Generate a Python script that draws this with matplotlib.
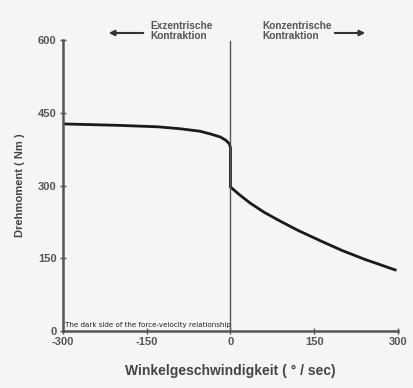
import matplotlib
matplotlib.use("Agg")
import matplotlib.pyplot as plt

# Data
x_ecc = [-300, -200, -130, -90, -55, -35, -18, -8, -2, 0, 0]
y_ecc = [427, 424, 421, 417, 412, 406, 400, 393, 386, 378, 300]
x_con = [0, 15, 35, 60, 90, 120, 165, 200, 240, 270, 295]
y_con = [297, 282, 264, 245, 226, 208, 184, 166, 148, 136, 126]
x_ticks = [-300, -150, 0, 150, 300]
y_ticks = [0, 150, 300, 450, 600]

plt.rcParams['font.family'] = ['Liberation Sans', 'DejaVu Sans']
fig = plt.figure(figsize=(4.13, 3.88), dpi=100, facecolor='#f5f5f5')
ax = fig.add_axes([0.1525, 0.1469, 0.811, 0.75])
ax.set_facecolor('#f5f5f5')

ax.plot(x_ecc, y_ecc, color='#1a1a1a', lw=2.0, solid_joinstyle='round')
ax.plot(x_con, y_con, color='#1a1a1a', lw=2.0, solid_joinstyle='round')
ax.axvline(0, ymin=0, ymax=0.995, color='#555555', lw=1.0)

ax.set_xlim(-300, 300)
ax.set_ylim(0, 600)
ax.set_xticks(x_ticks)
ax.set_yticks(y_ticks)
ax.set_xticklabels([str(v) for v in x_ticks], fontsize=8, fontweight='bold', color='#555555')
ax.set_yticklabels([str(v) for v in y_ticks], fontsize=8, fontweight='bold', color='#555555')
ax.tick_params(direction='inout', length=5, width=1, color='#555555', pad=2)
for s in ['top', 'right']:
    ax.spines[s].set_visible(False)
for s in ['left', 'bottom']:
    ax.spines[s].set_color('#555555')
    ax.spines[s].set_linewidth(1.8)

ax.set_xlabel('Winkelgeschwindigkeit ( ° / sec)', fontsize=10, fontweight='bold', color='#444444', labelpad=12)
ax.set_ylabel('Drehmoment ( Nm )', fontsize=8, fontweight='bold', color='#444444', labelpad=9)

ax.text(-296, 8, 'The dark side of the force-velocity relationship', fontsize=5.1, color='#222222',
        family=['DejaVu Sans'])

fig.text(150/413, 1-31/388, 'Exzentrische\nKontraktion', fontsize=7.3, fontweight='bold', color='#555555',
         va='center', ha='left', linespacing=1.0)
fig.text(262/413, 1-31/388, 'Konzentrische\nKontraktion', fontsize=7.3, fontweight='bold', color='#555555',
         va='center', ha='left', linespacing=1.0)
fig.add_artist(matplotlib.patches.FancyArrowPatch((146/413, 1-33/388), (106/413, 1-33/388),
               transform=fig.transFigure, arrowstyle='-|>', mutation_scale=8, color='#333333', lw=1.5))
fig.add_artist(matplotlib.patches.FancyArrowPatch((332/413, 1-33/388), (368/413, 1-33/388),
               transform=fig.transFigure, arrowstyle='-|>', mutation_scale=8, color='#333333', lw=1.5))

fig.savefig('out.png', dpi=100, facecolor=fig.get_facecolor())
